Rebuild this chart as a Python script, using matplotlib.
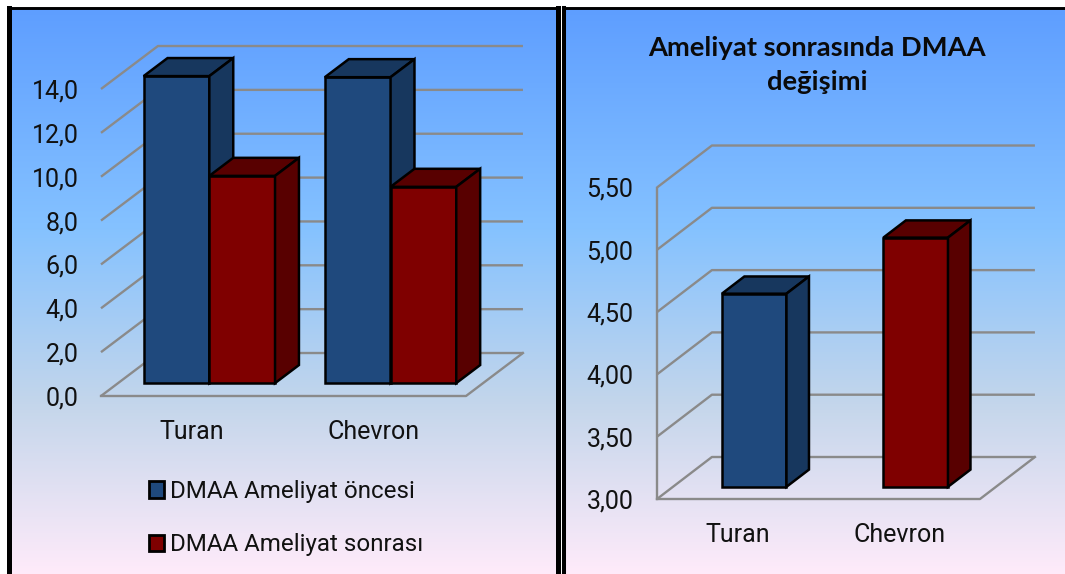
import numpy as np
import matplotlib
matplotlib.use('Agg')
import matplotlib.pyplot as plt
from matplotlib.colors import LinearSegmentedColormap
from matplotlib.patches import Patch, Polygon

W, H = 1065, 574

categories = ['Turan', 'Chevron']
series_names = ['DMAA Ameliyat öncesi', 'DMAA Ameliyat sonrası']
dmaa_before = [14.0, 13.95]
dmaa_after = [9.45, 8.95]
left_ticks = [0, 2, 4, 6, 8, 10, 12, 14]
left_labels = ['0,0', '2,0', '4,0', '6,0', '8,0', '10,0', '12,0', '14,0']

dmaa_change = [4.55, 5.0]
right_ticks = [3.0, 3.5, 4.0, 4.5, 5.0, 5.5]
right_labels = ['3,00', '3,50', '4,00', '4,50', '5,00', '5,50']
right_title = 'Ameliyat sonrasında DMAA\ndeğişimi'

BLUE = ('#1F497D', '#17375E')
RED = ('#7F0000', '#580000')
GRID = '#8A8A8A'

plt.rcParams['font.family'] = 'Roboto'
daybreak = LinearSegmentedColormap.from_list(
    'daybreak', [(0, '#5E9EFF'), (0.39, '#85C2FF'), (0.70, '#C4D6EB'), (1, '#FFEBFA')])


def box(x0, x1, y0, y1):
    # figure fractions from pixel edges, y counted from the top
    return [x0 / W, 1 - y1 / H, (x1 - x0) / W, (y1 - y0) / H]


def make_panel(fig, x0, x1, y0, y1, left_w, right_w):
    ax = fig.add_axes(box(x0, x1, y0, y1), zorder=0)
    ax.imshow(np.linspace(0, 1, 256).reshape(-1, 1), cmap=daybreak, aspect='auto',
              extent=(0, 1, 0, 1), vmin=0, vmax=1)
    ax.set_xticks([])
    ax.set_yticks([])
    ax.spines['bottom'].set_visible(False)
    ax.spines['top'].set_linewidth(2.1)
    ax.spines['left'].set_linewidth(left_w)
    if right_w:
        ax.spines['right'].set_linewidth(right_w)
    else:
        ax.spines['right'].set_visible(False)
    return ax


def draw_bar(ax, x, width, base, value, colors, skew_x, skew_y, near=0.3, far=0.72):
    # oblique box: front face at depth "near", back edge at depth "far"
    fx = x + near * skew_x
    fb = base + near * skew_y
    ft = value + near * skew_y
    dx = (far - near) * skew_x
    dy = (far - near) * skew_y
    faces = [
        ([(fx, fb), (fx + width, fb), (fx + width, ft), (fx, ft)], colors[0]),
        ([(fx, ft), (fx + width, ft), (fx + width + dx, ft + dy), (fx + dx, ft + dy)], colors[1]),
        ([(fx + width, fb), (fx + width + dx, fb + dy), (fx + width + dx, ft + dy), (fx + width, ft)], colors[1]),
    ]
    for pts, col in faces:
        ax.add_patch(Polygon(pts, closed=True, facecolor=col, edgecolor='black',
                             linewidth=1.8, joinstyle='miter', clip_on=False, zorder=3))


def make_plot(fig, rect, ylim, ticks, labels, skew_x, skew_y, centers, ypad):
    ax = fig.add_axes(box(*rect), zorder=1)
    ax.patch.set_alpha(0)
    for s in ax.spines.values():
        s.set_visible(False)
    ax.set_xlim(0, 2)
    ax.set_ylim(*ylim)
    ax.set_xticks(centers)
    ax.set_xticklabels(categories)
    ax.set_yticks(ticks)
    ax.set_yticklabels(labels)
    ax.tick_params(axis='x', length=0, labelsize=18, pad=17, labelcolor='#111111')
    ax.tick_params(axis='y', length=0, labelsize=18, pad=ypad, labelcolor='#111111')
    # side wall and back wall grid lines
    for v in ticks:
        ax.plot([0, skew_x, 2 + skew_x], [v, v + skew_y, v + skew_y],
                color=GRID, lw=1.7, clip_on=False, zorder=1, solid_capstyle='butt')
    # floor outline
    b = ylim[0]
    ax.plot([0, 2, 2 + skew_x], [b, b, b + skew_y], color=GRID, lw=1.7,
            clip_on=False, zorder=1)
    return ax


fig = plt.figure(figsize=(W / 100, H / 100), dpi=100, facecolor='white')

# left panel
make_panel(fig, 8.5, 557.5, 8.3, 575, 3.6, 3.6)
centers1 = [0.5, 1.493]
ax1 = make_plot(fig, (101, 466, 89, 396), (0, 14), left_ticks, left_labels, 0.312, 1.96, centers1, 16)
bar_w1 = 0.36
for i, x in enumerate(centers1):
    draw_bar(ax1, x - bar_w1, bar_w1, 0, dmaa_before[i], BLUE, 0.312, 1.96)
    draw_bar(ax1, x, bar_w1, 0, dmaa_after[i], RED, 0.312, 1.96)

handles = [Patch(facecolor=BLUE[0], edgecolor='black', linewidth=2, label=series_names[0]),
           Patch(facecolor=RED[0], edgecolor='black', linewidth=2, label=series_names[1])]
fig.legend(handles=handles, loc='upper left', bbox_to_anchor=(127 / W, 1 - 458 / H),
           frameon=False, fontsize=17.4, labelspacing=1.27, handlelength=0.65,
           handleheight=0.7, handletextpad=0.22, labelcolor='#111111')

# right panel
make_panel(fig, 564, 1067, 8.3, 575, 2.9, 0)
centers2 = [0.5, 1.5]
ax2 = make_plot(fig, (657, 980, 187.5, 499), (3, 5.5), right_ticks, right_labels, 0.34, 0.337, centers2, 17)
ax2.plot([0, 0], [3, 5.5], color=GRID, lw=1.7, clip_on=False, zorder=1)
bar_w2 = 0.40
for i, col in enumerate([BLUE, RED]):
    draw_bar(ax2, centers2[i] - bar_w2 / 2 + 0.003, bar_w2, 3, dmaa_change[i], col, 0.34, 0.337, near=0.29, far=0.70)

fig.text(817 / W, 1 - 65 / H, right_title, ha='center', va='center', fontsize=19.7,
         fontfamily='Lato', fontweight='bold', linespacing=1.45, color='#0a0a0a')

plt.savefig('out.png', dpi=100)
